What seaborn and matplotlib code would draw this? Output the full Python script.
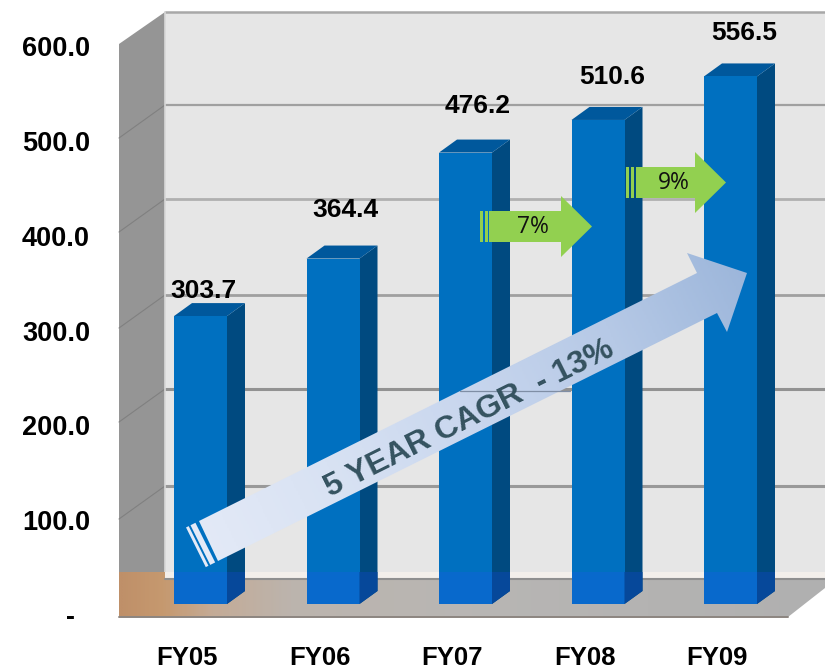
# Revenue by fiscal year, drawn as a pseudo 3D column chart with growth arrows.

import numpy as np
import matplotlib
matplotlib.use("Agg")
import matplotlib.pyplot as plt
import seaborn as sns
from matplotlib.colors import LinearSegmentedColormap
from matplotlib.patches import Polygon
from matplotlib.transforms import ScaledTranslation

fiscal_years = ["FY05", "FY06", "FY07", "FY08", "FY09"]
revenue = [303.7, 364.4, 476.2, 510.6, 556.5]
y_ticks = [0, 100, 200, 300, 400, 500, 600]
y_tick_labels = ["-  ", "100.0", "200.0", "300.0", "400.0", "500.0", "600.0"]

# where the value labels sit, in pixels from the top of the front face
label_dx = [3, 12, 12, 14, 14]
label_dy = [25, 49, 47, 43, 43]

W, H = 825, 669
BASE_PY = 604     # pixel row of value 0 on the bar fronts
PX_PER_UNIT = 0.948
PX_PER_CAT = 132.5
X0_PX = 200.5     # pixel column of the first bar centre
DEPTH_X, DEPTH_Y = 18, 13
LEFT_PX = 119

BLUE_FRONT = "#0070c0"
BLUE_SIDE = "#004a80"
BLUE_TOP = "#00589c"
BLUE_FLOOR = "#0869cc"
BLUE_FLOOR_SIDE = "#06489a"
GREEN = "#92d050"
FONT = ["Liberation Sans", "DejaVu Sans"]

sns.set_theme(style="white")
plt.rcParams["font.family"] = FONT

fig = plt.figure(figsize=(W / 100, H / 100), dpi=100)


def pixel_axes(zorder):
    a = fig.add_axes([0, 0, 1, 1], zorder=zorder)
    a.set_axis_off()
    a.patch.set_visible(False)
    return a


def gradient_poly(a, pts, colors, direction, zorder=1):
    """Fill a polygon given in pixels with a linear gradient along direction."""
    pts = np.array(pts, dtype=float)
    x0, y0 = pts.min(axis=0)
    x1, y1 = pts.max(axis=0)
    xs, ys = np.meshgrid(np.linspace(x0, x1, 300), np.linspace(y0, y1, 300))
    t = xs * direction[0] + ys * direction[1]
    t = (t - t.min()) / (t.max() - t.min())
    cmap = LinearSegmentedColormap.from_list("grad", colors)
    im = a.imshow(t, cmap=cmap, extent=(x0, x1, y1, y0), aspect="auto", zorder=zorder)
    clip = Polygon(pts, closed=True, fc="none", ec="none", zorder=zorder)
    a.add_patch(clip)
    im.set_clip_path(clip)


# ── background: walls and floor ──────────────────────────────────────────
bg = pixel_axes(0)
bg.add_patch(Polygon([(165, 12), (W, 12), (W, 580), (165, 580)], fc="#e6e6e6", ec="none"))
bg.add_patch(Polygon([(LEFT_PX, 44), (165, 12), (165, 580), (LEFT_PX, 617)],
                     fc="#959595", ec="none"))

# row, colour, width of each wall line
grid_lines = [(12, "#a8a8a8", 1.8), (105, "#a0a0a0", 1.6), (199, "#b0b0b0", 2.0),
              (295, "#a0a0a0", 2.0), (389, "#929292", 2.2), (486, "#999999", 2.2)]
for py, col, lw in grid_lines:
    bg.plot([165, W], [py, py], color=col, lw=lw, zorder=2)
    if py > 12:
        bg.plot([LEFT_PX, 165], [py + 33, py], color="#808080", lw=0.8, zorder=2)
bg.plot([165, 165], [12, 572], color="#d8d8d8", lw=1.2, zorder=2)

floor_stops = [(0, "#bf9069"), (0.06, "#c6996f"), (0.13, "#c4ab96"), (0.24, "#bcb4ad"),
               (0.5, "#b8b6b4"), (1, "#b0b0b0")]
gradient_poly(bg, [(LEFT_PX, 572), (W, 572), (W, 588), (788, 617), (LEFT_PX, 617)],
              floor_stops, (1, 0), zorder=3)
bg.add_patch(Polygon([(165, 572), (W, 572), (W, 578), (165, 578)],
                     fc="#f3efeb", ec="none", zorder=4))
bg.plot([165, W], [579, 579], color="#8f8f8f", lw=1.5, zorder=4)
bg.plot([LEFT_PX, 788], [617, 617], color="#8c8580", lw=1.4, zorder=4)
bg.set_xlim(0, W)
bg.set_ylim(H, 0)

# ── the chart itself ─────────────────────────────────────────────────────
ax = fig.add_axes([LEFT_PX / W, (H - BASE_PY) / H, (W - LEFT_PX) / W, BASE_PY / H], zorder=1)
ax.patch.set_visible(False)
sns.barplot(x=fiscal_years, y=revenue, color=BLUE_FRONT, saturation=1, width=0.4,
            linewidth=0, ax=ax, zorder=3)
ax.set_xlim((LEFT_PX - X0_PX) / PX_PER_CAT, (W - X0_PX) / PX_PER_CAT)
ax.set_ylim(0, BASE_PY / PX_PER_UNIT)
sns.despine(ax=ax, left=True, bottom=True, top=True, right=True)

dx = DEPTH_X / PX_PER_CAT
dy = DEPTH_Y / PX_PER_UNIT
floor_top = (BASE_PY - 572) / PX_PER_UNIT
for i, v in enumerate(revenue):
    l, r = i - 0.2, i + 0.2
    ax.add_patch(Polygon([(r, 0), (r + dx, dy), (r + dx, v + dy), (r, v)],
                         fc=BLUE_SIDE, ec="none", zorder=2))
    ax.add_patch(Polygon([(l, v), (r, v), (r + dx, v + dy), (l + dx, v + dy)],
                         fc=BLUE_TOP, ec="none", zorder=2))
    # the floor glare makes the foot of each column brighter
    ax.add_patch(Polygon([(l, 0), (r, 0), (r, floor_top), (l, floor_top)],
                         fc=BLUE_FLOOR, ec="none", zorder=4))
    ax.add_patch(Polygon([(r, 0), (r + dx, dy), (r + dx, floor_top), (r, floor_top)],
                         fc=BLUE_FLOOR_SIDE, ec="none", zorder=4))
    ax.annotate(f"{v:.1f}", (i, v), xytext=(label_dx[i], label_dy[i]),
                textcoords="offset pixels", ha="center", va="center",
                fontsize=19, fontweight="bold", color="black", zorder=6)

ax.set_xlabel("")
ax.set_ylabel("")
ax.set_yticks(y_ticks)
ax.set_yticklabels(y_tick_labels, fontsize=19.5, fontweight="bold", color="black")
ax.set_xticks(range(len(fiscal_years)))
ax.set_xticklabels(fiscal_years, fontsize=18.5, fontweight="bold", color="black")
ax.tick_params(axis="both", length=0)
ax.tick_params(axis="y", pad=29 * 0.72)
ax.tick_params(axis="x", pad=30)

# tick labels sit on the front plane of the floor, not on the bar plane
for lab in ax.get_yticklabels():
    lab.set_transform(lab.get_transform() + ScaledTranslation(0, -11 / 100, fig.dpi_scale_trans))
for lab in ax.get_xticklabels():
    lab.set_transform(lab.get_transform() + ScaledTranslation(-13.5 / 100, 0, fig.dpi_scale_trans))

# ── foreground: growth arrows ────────────────────────────────────────────
fg = pixel_axes(2)


def green_arrow(x0, body, head, tip, top, bottom, label):
    mid = (top + bottom) / 2
    half = (bottom - top) / 2 + 15
    fg.add_patch(Polygon([(body, top), (head, top), (head, mid - half), (tip, mid),
                          (head, mid + half), (head, bottom), (body, bottom)],
                         fc=GREEN, ec="none", zorder=3))
    for s0, s1 in [(x0, x0 + 2.5), (x0 + 5, x0 + 7.5)]:
        fg.add_patch(Polygon([(s0, top), (s1, top), (s1, bottom), (s0, bottom)],
                             fc=GREEN, ec="none", zorder=3))
    fg.text((body + head) / 2 + 8, mid + 0.5, label, ha="center", va="center",
            fontsize=16.5, color="#111111", family=["Open Sans", "DejaVu Sans"], zorder=4)


green_arrow(480, 489, 561, 592, 211, 242, "7%")
green_arrow(626, 636, 695, 726, 167, 198, "9%")

ang = np.arctan2(521 - 273, 697 - 199)
ux, uy = np.cos(ang), -np.sin(ang)
nx, ny = -uy, ux
shaft_len = 44.3
stops = ["#e4eaf7", "#d8e2f3", "#c8d6ee", "#b6c9e6", "#9bb5da"]
body = [(199, 521), (697, 273), (687, 253), (747, 273), (727, 332), (717, 313), (218, 561)]
gradient_poly(fg, body, stops, (ux, uy), zorder=2)
# two thin stripes at the tail
for t0, t1 in [(-14.5, -11.5), (-9.5, -4)]:
    a0 = (199 + t0 * ux, 521 + t0 * uy)
    a1 = (199 + t1 * ux, 521 + t1 * uy)
    b0 = (a0[0] + shaft_len * nx, a0[1] + shaft_len * ny)
    b1 = (a1[0] + shaft_len * nx, a1[1] + shaft_len * ny)
    fg.add_patch(Polygon([a0, a1, b1, b0], fc="#e4eaf7", ec="none", zorder=2))

# wall line showing faintly through the arrow
fg.plot([460, 570], [391, 391], color="#7f8ea5", lw=0.9, zorder=3)

fg.text(469, 419, "5 YEAR CAGR  - 13%", rotation=np.degrees(ang), rotation_mode="anchor",
        ha="center", va="center", fontsize=23, fontweight="bold", color="#34525f", zorder=4)
fg.set_xlim(0, W)
fg.set_ylim(H, 0)

fig.savefig("out.png", dpi=100)
plt.close(fig)
